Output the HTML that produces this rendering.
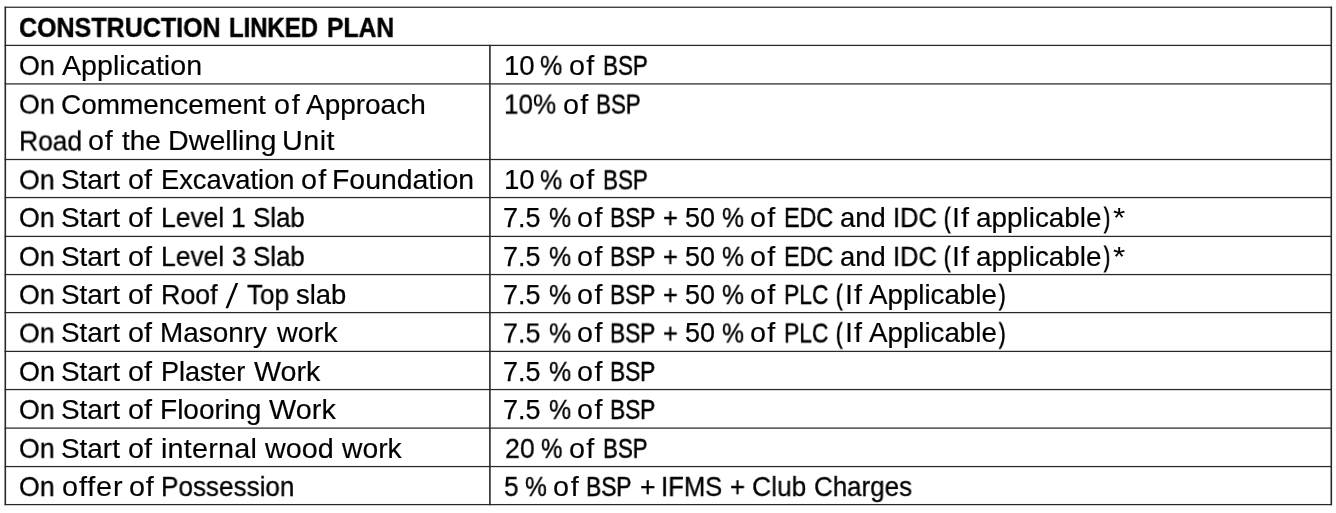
<!DOCTYPE html><html><head><meta charset="utf-8"><style>
html,body{margin:0;padding:0;background:#fff;width:1336px;height:513px;overflow:hidden;}
body{position:relative;font-family:"Liberation Sans",sans-serif;color:#000;}
.t{position:absolute;white-space:pre;line-height:26.9px;font-size:26.9px;transform-origin:0 0;will-change:transform;-webkit-text-stroke:0.25px #000;}
.b{font-weight:bold;font-size:27.4px;line-height:27.4px;}
svg{position:absolute;left:0;top:0;}
</style></head><body>
<svg width="1336" height="513" viewBox="0 0 1336 513"><rect x="4.67" y="6.62" width="1327.25" height="1.25" fill="#282828"/><rect x="4.67" y="44.77" width="1327.25" height="1.25" fill="#282828"/><rect x="4.67" y="83.28" width="1327.25" height="1.25" fill="#282828"/><rect x="4.67" y="158.88" width="1327.25" height="1.25" fill="#282828"/><rect x="4.67" y="196.93" width="1327.25" height="1.25" fill="#282828"/><rect x="4.67" y="235.78" width="1327.25" height="1.25" fill="#282828"/><rect x="4.67" y="273.93" width="1327.25" height="1.25" fill="#282828"/><rect x="4.67" y="311.98" width="1327.25" height="1.25" fill="#282828"/><rect x="4.67" y="350.77" width="1327.25" height="1.25" fill="#282828"/><rect x="4.67" y="388.93" width="1327.25" height="1.25" fill="#282828"/><rect x="4.67" y="427.48" width="1327.25" height="1.25" fill="#282828"/><rect x="4.67" y="465.93" width="1327.25" height="1.25" fill="#282828"/><rect x="4.67" y="503.98" width="1327.25" height="1.25" fill="#282828"/><rect x="4.50" y="6.62" width="1.60" height="498.60" fill="#282828"/><rect x="1330.50" y="6.62" width="1.60" height="498.60" fill="#282828"/><rect x="489.10" y="44.77" width="1.60" height="460.45" fill="#282828"/></svg>
<div class="t b" style="left:19.40px;top:13px;transform:translateY(0.90px) scaleX(0.9141);-webkit-text-stroke-width:0.41px;">CONSTRUCTION</div>
<div class="t b" style="left:229.36px;top:13px;transform:translateY(0.90px) scaleX(0.8725);-webkit-text-stroke-width:0.50px;">LINKED</div>
<div class="t b" style="left:327.29px;top:13px;transform:translateY(0.90px) scaleX(0.9010);-webkit-text-stroke-width:0.44px;">PLAN</div>
<div class="t" style="left:19.23px;top:52px;transform:translateY(0.90px) scaleX(0.9949);">On</div>
<div class="t" style="left:61.87px;top:52px;transform:translateY(0.90px) scaleX(1.0646);-webkit-text-stroke-width:0.15px;">Application</div>
<div class="t" style="left:19.33px;top:91px;transform:translateY(0.60px) scaleX(0.9949);">On</div>
<div class="t" style="left:61.39px;top:91px;transform:translateY(0.60px) scaleX(1.0386);-webkit-text-stroke-width:0.19px;">Commencement</div>
<div class="t" style="left:273.59px;top:91px;transform:translateY(0.60px) scaleX(1.0700);letter-spacing:1.55px;-webkit-text-stroke-width:0.14px;">of</div>
<div class="t" style="left:306.40px;top:91px;transform:translateY(0.60px) scaleX(1.0397);-webkit-text-stroke-width:0.19px;">Approach</div>
<div class="t" style="left:18.96px;top:128px;transform:translateY(0.45px) scaleX(0.9826);-webkit-text-stroke-width:0.28px;">Road</div>
<div class="t" style="left:88.49px;top:128px;transform:translateY(0.45px) scaleX(1.0700);letter-spacing:0.80px;-webkit-text-stroke-width:0.14px;">of</div>
<div class="t" style="left:122.14px;top:128px;transform:translateY(0.45px) scaleX(1.0377);-webkit-text-stroke-width:0.19px;">the</div>
<div class="t" style="left:168.41px;top:128px;transform:translateY(0.45px) scaleX(1.0658);-webkit-text-stroke-width:0.15px;">Dwelling</div>
<div class="t" style="left:281.67px;top:128px;transform:translateY(0.45px) scaleX(1.0700);letter-spacing:0.44px;-webkit-text-stroke-width:0.14px;">Unit</div>
<div class="t" style="left:19.14px;top:167px;transform:translateY(0.30px) scaleX(0.9917);-webkit-text-stroke-width:0.26px;">On</div>
<div class="t" style="left:61.29px;top:167px;transform:translateY(0.30px) scaleX(1.0371);-webkit-text-stroke-width:0.19px;">Start</div>
<div class="t" style="left:128.39px;top:167px;transform:translateY(0.30px) scaleX(1.0700);letter-spacing:0.05px;-webkit-text-stroke-width:0.14px;">of</div>
<div class="t" style="left:160.66px;top:167px;transform:translateY(0.30px) scaleX(1.0150);-webkit-text-stroke-width:0.22px;">Excavation</div>
<div class="t" style="left:300.59px;top:167px;transform:translateY(0.30px) scaleX(1.0700);letter-spacing:1.27px;-webkit-text-stroke-width:0.14px;">of</div>
<div class="t" style="left:332.14px;top:167px;transform:translateY(0.30px) scaleX(1.0566);-webkit-text-stroke-width:0.16px;">Foundation</div>
<div class="t" style="left:19.14px;top:204px;transform:translateY(0.95px) scaleX(0.9917);-webkit-text-stroke-width:0.26px;">On</div>
<div class="t" style="left:61.29px;top:204px;transform:translateY(0.95px) scaleX(1.0371);-webkit-text-stroke-width:0.19px;">Start</div>
<div class="t" style="left:128.39px;top:204px;transform:translateY(0.95px) scaleX(1.0700);letter-spacing:0.05px;-webkit-text-stroke-width:0.14px;">of</div>
<div class="t" style="left:160.76px;top:204px;transform:translateY(0.95px) scaleX(0.9837);-webkit-text-stroke-width:0.28px;">Level</div>
<div class="t" style="left:231.42px;top:204px;transform:translateY(0.95px) scaleX(0.9860);-webkit-text-stroke-width:0.27px;">1</div>
<div class="t" style="left:252.65px;top:204px;transform:translateY(0.95px) scaleX(0.9620);-webkit-text-stroke-width:0.32px;">Slab</div>
<div class="t" style="left:19.14px;top:243px;transform:translateY(0.90px) scaleX(0.9917);-webkit-text-stroke-width:0.26px;">On</div>
<div class="t" style="left:61.29px;top:243px;transform:translateY(0.90px) scaleX(1.0371);-webkit-text-stroke-width:0.19px;">Start</div>
<div class="t" style="left:128.39px;top:243px;transform:translateY(0.90px) scaleX(1.0700);letter-spacing:0.05px;-webkit-text-stroke-width:0.14px;">of</div>
<div class="t" style="left:160.76px;top:243px;transform:translateY(0.90px) scaleX(0.9837);-webkit-text-stroke-width:0.28px;">Level</div>
<div class="t" style="left:231.80px;top:243px;transform:translateY(0.90px) scaleX(0.9515);-webkit-text-stroke-width:0.34px;">3</div>
<div class="t" style="left:252.65px;top:243px;transform:translateY(0.90px) scaleX(0.9620);-webkit-text-stroke-width:0.32px;">Slab</div>
<div class="t" style="left:19.14px;top:282px;transform:translateY(0.05px) scaleX(0.9917);-webkit-text-stroke-width:0.26px;">On</div>
<div class="t" style="left:61.29px;top:282px;transform:translateY(0.05px) scaleX(1.0371);-webkit-text-stroke-width:0.19px;">Start</div>
<div class="t" style="left:128.39px;top:282px;transform:translateY(0.05px) scaleX(1.0700);letter-spacing:0.05px;-webkit-text-stroke-width:0.14px;">of</div>
<div class="t" style="left:160.82px;top:282px;transform:translateY(0.05px) scaleX(0.9967);">Roof</div>
<svg width="1336" height="513" style="position:absolute;left:0;top:0"><polygon points="225.50,308.30 228.10,308.30 238.20,282.90 235.60,282.90" fill="#000"/></svg>
<div class="t" style="left:246.97px;top:282px;transform:translateY(0.05px) scaleX(0.9644);-webkit-text-stroke-width:0.31px;">Top</div>
<div class="t" style="left:296.45px;top:282px;transform:translateY(0.05px) scaleX(1.0196);-webkit-text-stroke-width:0.22px;">slab</div>
<div class="t" style="left:19.14px;top:320px;transform:translateY(0.45px) scaleX(0.9917);-webkit-text-stroke-width:0.26px;">On</div>
<div class="t" style="left:61.29px;top:320px;transform:translateY(0.45px) scaleX(1.0371);-webkit-text-stroke-width:0.19px;">Start</div>
<div class="t" style="left:128.39px;top:320px;transform:translateY(0.45px) scaleX(1.0700);letter-spacing:0.05px;-webkit-text-stroke-width:0.14px;">of</div>
<div class="t" style="left:160.39px;top:320px;transform:translateY(0.45px) scaleX(1.0371);-webkit-text-stroke-width:0.19px;">Masonry</div>
<div class="t" style="left:277.02px;top:320px;transform:translateY(0.45px) scaleX(1.0674);-webkit-text-stroke-width:0.14px;">work</div>
<div class="t" style="left:19.14px;top:359px;transform:translateY(0.00px) scaleX(0.9917);-webkit-text-stroke-width:0.26px;">On</div>
<div class="t" style="left:61.29px;top:359px;transform:translateY(0.00px) scaleX(1.0371);-webkit-text-stroke-width:0.19px;">Start</div>
<div class="t" style="left:128.39px;top:359px;transform:translateY(0.00px) scaleX(1.0700);letter-spacing:0.05px;-webkit-text-stroke-width:0.14px;">of</div>
<div class="t" style="left:160.59px;top:359px;transform:translateY(0.00px) scaleX(1.0060);-webkit-text-stroke-width:0.24px;">Plaster</div>
<div class="t" style="left:253.53px;top:359px;transform:translateY(0.00px) scaleX(1.0641);-webkit-text-stroke-width:0.15px;">Work</div>
<div class="t" style="left:19.14px;top:396px;transform:translateY(0.95px) scaleX(0.9917);-webkit-text-stroke-width:0.26px;">On</div>
<div class="t" style="left:61.29px;top:396px;transform:translateY(0.95px) scaleX(1.0371);-webkit-text-stroke-width:0.19px;">Start</div>
<div class="t" style="left:128.39px;top:396px;transform:translateY(0.95px) scaleX(1.0700);letter-spacing:0.05px;-webkit-text-stroke-width:0.14px;">of</div>
<div class="t" style="left:160.48px;top:396px;transform:translateY(0.95px) scaleX(1.0429);-webkit-text-stroke-width:0.18px;">Flooring</div>
<div class="t" style="left:268.72px;top:396px;transform:translateY(0.95px) scaleX(1.0700);letter-spacing:0.11px;-webkit-text-stroke-width:0.14px;">Work</div>
<div class="t" style="left:19.14px;top:435px;transform:translateY(0.85px) scaleX(0.9917);-webkit-text-stroke-width:0.26px;">On</div>
<div class="t" style="left:61.29px;top:435px;transform:translateY(0.85px) scaleX(1.0371);-webkit-text-stroke-width:0.19px;">Start</div>
<div class="t" style="left:128.39px;top:435px;transform:translateY(0.85px) scaleX(1.0700);letter-spacing:0.05px;-webkit-text-stroke-width:0.14px;">of</div>
<div class="t" style="left:160.50px;top:435px;transform:translateY(0.85px) scaleX(1.0700);letter-spacing:0.21px;-webkit-text-stroke-width:0.14px;">internal</div>
<div class="t" style="left:264.72px;top:435px;transform:translateY(0.85px) scaleX(1.0690);-webkit-text-stroke-width:0.14px;">wood</div>
<div class="t" style="left:341.84px;top:435px;transform:translateY(0.85px) scaleX(1.0510);-webkit-text-stroke-width:0.17px;">work</div>
<div class="t" style="left:19.14px;top:474px;transform:translateY(0.05px) scaleX(0.9917);-webkit-text-stroke-width:0.26px;">On</div>
<div class="t" style="left:61.59px;top:474px;transform:translateY(0.05px) scaleX(1.0700);letter-spacing:0.82px;-webkit-text-stroke-width:0.14px;">offer</div>
<div class="t" style="left:128.69px;top:474px;transform:translateY(0.05px) scaleX(1.0700);letter-spacing:0.71px;-webkit-text-stroke-width:0.14px;">of</div>
<div class="t" style="left:161.40px;top:474px;transform:translateY(0.05px) scaleX(0.9704);-webkit-text-stroke-width:0.30px;">Possession</div>
<div class="t" style="left:503.60px;top:52px;transform:translateY(0.90px) scaleX(1.0253);-webkit-text-stroke-width:0.21px;">10</div>
<div class="t" style="left:540.44px;top:52px;transform:translateY(0.90px) scaleX(0.9300);-webkit-text-stroke-width:0.38px;">%</div>
<div class="t" style="left:569.39px;top:52px;transform:translateY(0.90px) scaleX(1.0700);letter-spacing:1.18px;-webkit-text-stroke-width:0.14px;">of</div>
<div class="t" style="left:602.71px;top:52px;transform:translateY(0.90px) scaleX(0.8336);-webkit-text-stroke-width:0.59px;">BSP</div>
<div class="t" style="left:504.17px;top:91px;transform:translateY(0.60px) scaleX(0.9678);-webkit-text-stroke-width:0.31px;">10%</div>
<div class="t" style="left:562.99px;top:91px;transform:translateY(0.60px) scaleX(1.0700);letter-spacing:1.18px;-webkit-text-stroke-width:0.14px;">of</div>
<div class="t" style="left:595.72px;top:91px;transform:translateY(0.60px) scaleX(0.8316);-webkit-text-stroke-width:0.59px;">BSP</div>
<div class="t" style="left:503.60px;top:167px;transform:translateY(0.30px) scaleX(1.0253);-webkit-text-stroke-width:0.21px;">10</div>
<div class="t" style="left:540.44px;top:167px;transform:translateY(0.30px) scaleX(0.9300);-webkit-text-stroke-width:0.38px;">%</div>
<div class="t" style="left:569.39px;top:167px;transform:translateY(0.30px) scaleX(1.0700);letter-spacing:1.18px;-webkit-text-stroke-width:0.14px;">of</div>
<div class="t" style="left:602.71px;top:167px;transform:translateY(0.30px) scaleX(0.8336);-webkit-text-stroke-width:0.59px;">BSP</div>
<div class="t" style="left:503.41px;top:204px;transform:translateY(0.95px) scaleX(0.9996);">7.5</div>
<div class="t" style="left:548.65px;top:204px;transform:translateY(0.95px) scaleX(0.9251);-webkit-text-stroke-width:0.39px;">%</div>
<div class="t" style="left:576.79px;top:204px;transform:translateY(0.95px) scaleX(1.0700);letter-spacing:1.36px;-webkit-text-stroke-width:0.14px;">of</div>
<div class="t" style="left:610.19px;top:204px;transform:translateY(0.95px) scaleX(0.8419);-webkit-text-stroke-width:0.57px;">BSP</div>
<div class="t" style="left:663.07px;top:204px;transform:translateY(0.95px) scaleX(0.9438);-webkit-text-stroke-width:0.35px;">+</div>
<div class="t" style="left:684.71px;top:204px;transform:translateY(0.95px) scaleX(1.0034);">50</div>
<div class="t" style="left:721.76px;top:204px;transform:translateY(0.95px) scaleX(0.9201);-webkit-text-stroke-width:0.40px;">%</div>
<div class="t" style="left:750.29px;top:204px;transform:translateY(0.95px) scaleX(1.0700);letter-spacing:1.18px;-webkit-text-stroke-width:0.14px;">of</div>
<div class="t" style="left:783.72px;top:204px;transform:translateY(0.95px) scaleX(0.8658);-webkit-text-stroke-width:0.51px;">EDC</div>
<div class="t" style="left:839.97px;top:204px;transform:translateY(0.95px) scaleX(1.0190);-webkit-text-stroke-width:0.22px;">and</div>
<div class="t" style="left:892.51px;top:204px;transform:translateY(0.95px) scaleX(0.9445);-webkit-text-stroke-width:0.35px;">IDC</div>
<div class="t" style="left:943.91px;top:204px;transform:translateY(0.95px) scaleX(0.7132);-webkit-text-stroke-width:0.93px;">(</div>
<div class="t" style="left:952.21px;top:204px;transform:translateY(0.95px) scaleX(1.0700);letter-spacing:1.01px;-webkit-text-stroke-width:0.14px;">If</div>
<div class="t" style="left:975.93px;top:204px;transform:translateY(0.95px) scaleX(1.0366);-webkit-text-stroke-width:0.19px;">applicable</div>
<div class="t" style="left:1104.07px;top:204px;transform:translateY(0.95px) scaleX(0.6662);-webkit-text-stroke-width:1.00px;">)</div>
<div class="t" style="left:1112.95px;top:204px;transform:translateY(0.95px) scaleX(1.1725);-webkit-text-stroke-width:0.00px;">*</div>
<div class="t" style="left:503.41px;top:243px;transform:translateY(0.90px) scaleX(0.9996);">7.5</div>
<div class="t" style="left:548.65px;top:243px;transform:translateY(0.90px) scaleX(0.9251);-webkit-text-stroke-width:0.39px;">%</div>
<div class="t" style="left:576.79px;top:243px;transform:translateY(0.90px) scaleX(1.0700);letter-spacing:1.36px;-webkit-text-stroke-width:0.14px;">of</div>
<div class="t" style="left:610.19px;top:243px;transform:translateY(0.90px) scaleX(0.8419);-webkit-text-stroke-width:0.57px;">BSP</div>
<div class="t" style="left:663.07px;top:243px;transform:translateY(0.90px) scaleX(0.9438);-webkit-text-stroke-width:0.35px;">+</div>
<div class="t" style="left:684.71px;top:243px;transform:translateY(0.90px) scaleX(1.0034);">50</div>
<div class="t" style="left:721.76px;top:243px;transform:translateY(0.90px) scaleX(0.9201);-webkit-text-stroke-width:0.40px;">%</div>
<div class="t" style="left:750.29px;top:243px;transform:translateY(0.90px) scaleX(1.0700);letter-spacing:1.18px;-webkit-text-stroke-width:0.14px;">of</div>
<div class="t" style="left:783.72px;top:243px;transform:translateY(0.90px) scaleX(0.8658);-webkit-text-stroke-width:0.51px;">EDC</div>
<div class="t" style="left:839.97px;top:243px;transform:translateY(0.90px) scaleX(1.0190);-webkit-text-stroke-width:0.22px;">and</div>
<div class="t" style="left:892.51px;top:243px;transform:translateY(0.90px) scaleX(0.9445);-webkit-text-stroke-width:0.35px;">IDC</div>
<div class="t" style="left:943.91px;top:243px;transform:translateY(0.90px) scaleX(0.7132);-webkit-text-stroke-width:0.93px;">(</div>
<div class="t" style="left:952.21px;top:243px;transform:translateY(0.90px) scaleX(1.0700);letter-spacing:1.01px;-webkit-text-stroke-width:0.14px;">If</div>
<div class="t" style="left:975.93px;top:243px;transform:translateY(0.90px) scaleX(1.0366);-webkit-text-stroke-width:0.19px;">applicable</div>
<div class="t" style="left:1104.07px;top:243px;transform:translateY(0.90px) scaleX(0.6662);-webkit-text-stroke-width:1.00px;">)</div>
<div class="t" style="left:1112.95px;top:243px;transform:translateY(0.90px) scaleX(1.1725);-webkit-text-stroke-width:0.00px;">*</div>
<div class="t" style="left:503.41px;top:282px;transform:translateY(0.05px) scaleX(0.9996);">7.5</div>
<div class="t" style="left:548.65px;top:282px;transform:translateY(0.05px) scaleX(0.9251);-webkit-text-stroke-width:0.39px;">%</div>
<div class="t" style="left:576.79px;top:282px;transform:translateY(0.05px) scaleX(1.0700);letter-spacing:1.36px;-webkit-text-stroke-width:0.14px;">of</div>
<div class="t" style="left:610.19px;top:282px;transform:translateY(0.05px) scaleX(0.8419);-webkit-text-stroke-width:0.57px;">BSP</div>
<div class="t" style="left:663.07px;top:282px;transform:translateY(0.05px) scaleX(0.9438);-webkit-text-stroke-width:0.35px;">+</div>
<div class="t" style="left:684.71px;top:282px;transform:translateY(0.05px) scaleX(1.0034);">50</div>
<div class="t" style="left:721.76px;top:282px;transform:translateY(0.05px) scaleX(0.9201);-webkit-text-stroke-width:0.40px;">%</div>
<div class="t" style="left:750.49px;top:282px;transform:translateY(0.05px) scaleX(1.0700);letter-spacing:1.18px;-webkit-text-stroke-width:0.14px;">of</div>
<div class="t" style="left:784.07px;top:282px;transform:translateY(0.05px) scaleX(0.8471);-webkit-text-stroke-width:0.56px;">PLC</div>
<div class="t" style="left:835.51px;top:282px;transform:translateY(0.05px) scaleX(0.7132);-webkit-text-stroke-width:0.93px;">(</div>
<div class="t" style="left:844.51px;top:282px;transform:translateY(0.05px) scaleX(1.0700);letter-spacing:1.01px;-webkit-text-stroke-width:0.14px;">If</div>
<div class="t" style="left:868.71px;top:282px;transform:translateY(0.05px) scaleX(1.0302);-webkit-text-stroke-width:0.20px;">Applicable</div>
<div class="t" style="left:998.82px;top:282px;transform:translateY(0.05px) scaleX(0.7158);-webkit-text-stroke-width:0.93px;">)</div>
<div class="t" style="left:503.41px;top:320px;transform:translateY(0.45px) scaleX(0.9996);">7.5</div>
<div class="t" style="left:548.65px;top:320px;transform:translateY(0.45px) scaleX(0.9251);-webkit-text-stroke-width:0.39px;">%</div>
<div class="t" style="left:576.79px;top:320px;transform:translateY(0.45px) scaleX(1.0700);letter-spacing:1.36px;-webkit-text-stroke-width:0.14px;">of</div>
<div class="t" style="left:610.19px;top:320px;transform:translateY(0.45px) scaleX(0.8419);-webkit-text-stroke-width:0.57px;">BSP</div>
<div class="t" style="left:663.07px;top:320px;transform:translateY(0.45px) scaleX(0.9438);-webkit-text-stroke-width:0.35px;">+</div>
<div class="t" style="left:684.71px;top:320px;transform:translateY(0.45px) scaleX(1.0034);">50</div>
<div class="t" style="left:721.76px;top:320px;transform:translateY(0.45px) scaleX(0.9201);-webkit-text-stroke-width:0.40px;">%</div>
<div class="t" style="left:750.49px;top:320px;transform:translateY(0.45px) scaleX(1.0700);letter-spacing:1.18px;-webkit-text-stroke-width:0.14px;">of</div>
<div class="t" style="left:784.07px;top:320px;transform:translateY(0.45px) scaleX(0.8471);-webkit-text-stroke-width:0.56px;">PLC</div>
<div class="t" style="left:835.51px;top:320px;transform:translateY(0.45px) scaleX(0.7132);-webkit-text-stroke-width:0.93px;">(</div>
<div class="t" style="left:844.51px;top:320px;transform:translateY(0.45px) scaleX(1.0700);letter-spacing:1.01px;-webkit-text-stroke-width:0.14px;">If</div>
<div class="t" style="left:868.71px;top:320px;transform:translateY(0.45px) scaleX(1.0302);-webkit-text-stroke-width:0.20px;">Applicable</div>
<div class="t" style="left:998.82px;top:320px;transform:translateY(0.45px) scaleX(0.7158);-webkit-text-stroke-width:0.93px;">)</div>
<div class="t" style="left:503.41px;top:359px;transform:translateY(0.00px) scaleX(0.9996);">7.5</div>
<div class="t" style="left:548.65px;top:359px;transform:translateY(0.00px) scaleX(0.9251);-webkit-text-stroke-width:0.39px;">%</div>
<div class="t" style="left:576.79px;top:359px;transform:translateY(0.00px) scaleX(1.0700);letter-spacing:1.36px;-webkit-text-stroke-width:0.14px;">of</div>
<div class="t" style="left:610.19px;top:359px;transform:translateY(0.00px) scaleX(0.8419);-webkit-text-stroke-width:0.57px;">BSP</div>
<div class="t" style="left:503.41px;top:396px;transform:translateY(0.95px) scaleX(0.9996);">7.5</div>
<div class="t" style="left:548.65px;top:396px;transform:translateY(0.95px) scaleX(0.9251);-webkit-text-stroke-width:0.39px;">%</div>
<div class="t" style="left:576.79px;top:396px;transform:translateY(0.95px) scaleX(1.0700);letter-spacing:1.36px;-webkit-text-stroke-width:0.14px;">of</div>
<div class="t" style="left:610.19px;top:396px;transform:translateY(0.95px) scaleX(0.8419);-webkit-text-stroke-width:0.57px;">BSP</div>
<div class="t" style="left:504.50px;top:435px;transform:translateY(0.85px) scaleX(0.9932);-webkit-text-stroke-width:0.26px;">20</div>
<div class="t" style="left:541.21px;top:435px;transform:translateY(0.85px) scaleX(0.8952);-webkit-text-stroke-width:0.45px;">%</div>
<div class="t" style="left:569.39px;top:435px;transform:translateY(0.85px) scaleX(1.0700);letter-spacing:1.18px;-webkit-text-stroke-width:0.14px;">of</div>
<div class="t" style="left:602.73px;top:435px;transform:translateY(0.85px) scaleX(0.8295);-webkit-text-stroke-width:0.60px;">BSP</div>
<div class="t" style="left:503.67px;top:474px;transform:translateY(0.05px) scaleX(0.9753);-webkit-text-stroke-width:0.29px;">5</div>
<div class="t" style="left:525.37px;top:474px;transform:translateY(0.05px) scaleX(0.9151);-webkit-text-stroke-width:0.41px;">%</div>
<div class="t" style="left:552.99px;top:474px;transform:translateY(0.05px) scaleX(1.0700);letter-spacing:1.64px;-webkit-text-stroke-width:0.14px;">of</div>
<div class="t" style="left:586.38px;top:474px;transform:translateY(0.05px) scaleX(0.8460);-webkit-text-stroke-width:0.56px;">BSP</div>
<div class="t" style="left:639.58px;top:474px;transform:translateY(0.05px) scaleX(0.9866);-webkit-text-stroke-width:0.27px;">+</div>
<div class="t" style="left:661.48px;top:474px;transform:translateY(0.05px) scaleX(0.9535);-webkit-text-stroke-width:0.33px;">IFMS</div>
<div class="t" style="left:730.04px;top:474px;transform:translateY(0.05px) scaleX(0.9609);-webkit-text-stroke-width:0.32px;">+</div>
<div class="t" style="left:751.82px;top:474px;transform:translateY(0.05px) scaleX(0.9825);-webkit-text-stroke-width:0.28px;">Club</div>
<div class="t" style="left:814.06px;top:474px;transform:translateY(0.05px) scaleX(0.9644);-webkit-text-stroke-width:0.31px;">Charges</div>
</body></html>
